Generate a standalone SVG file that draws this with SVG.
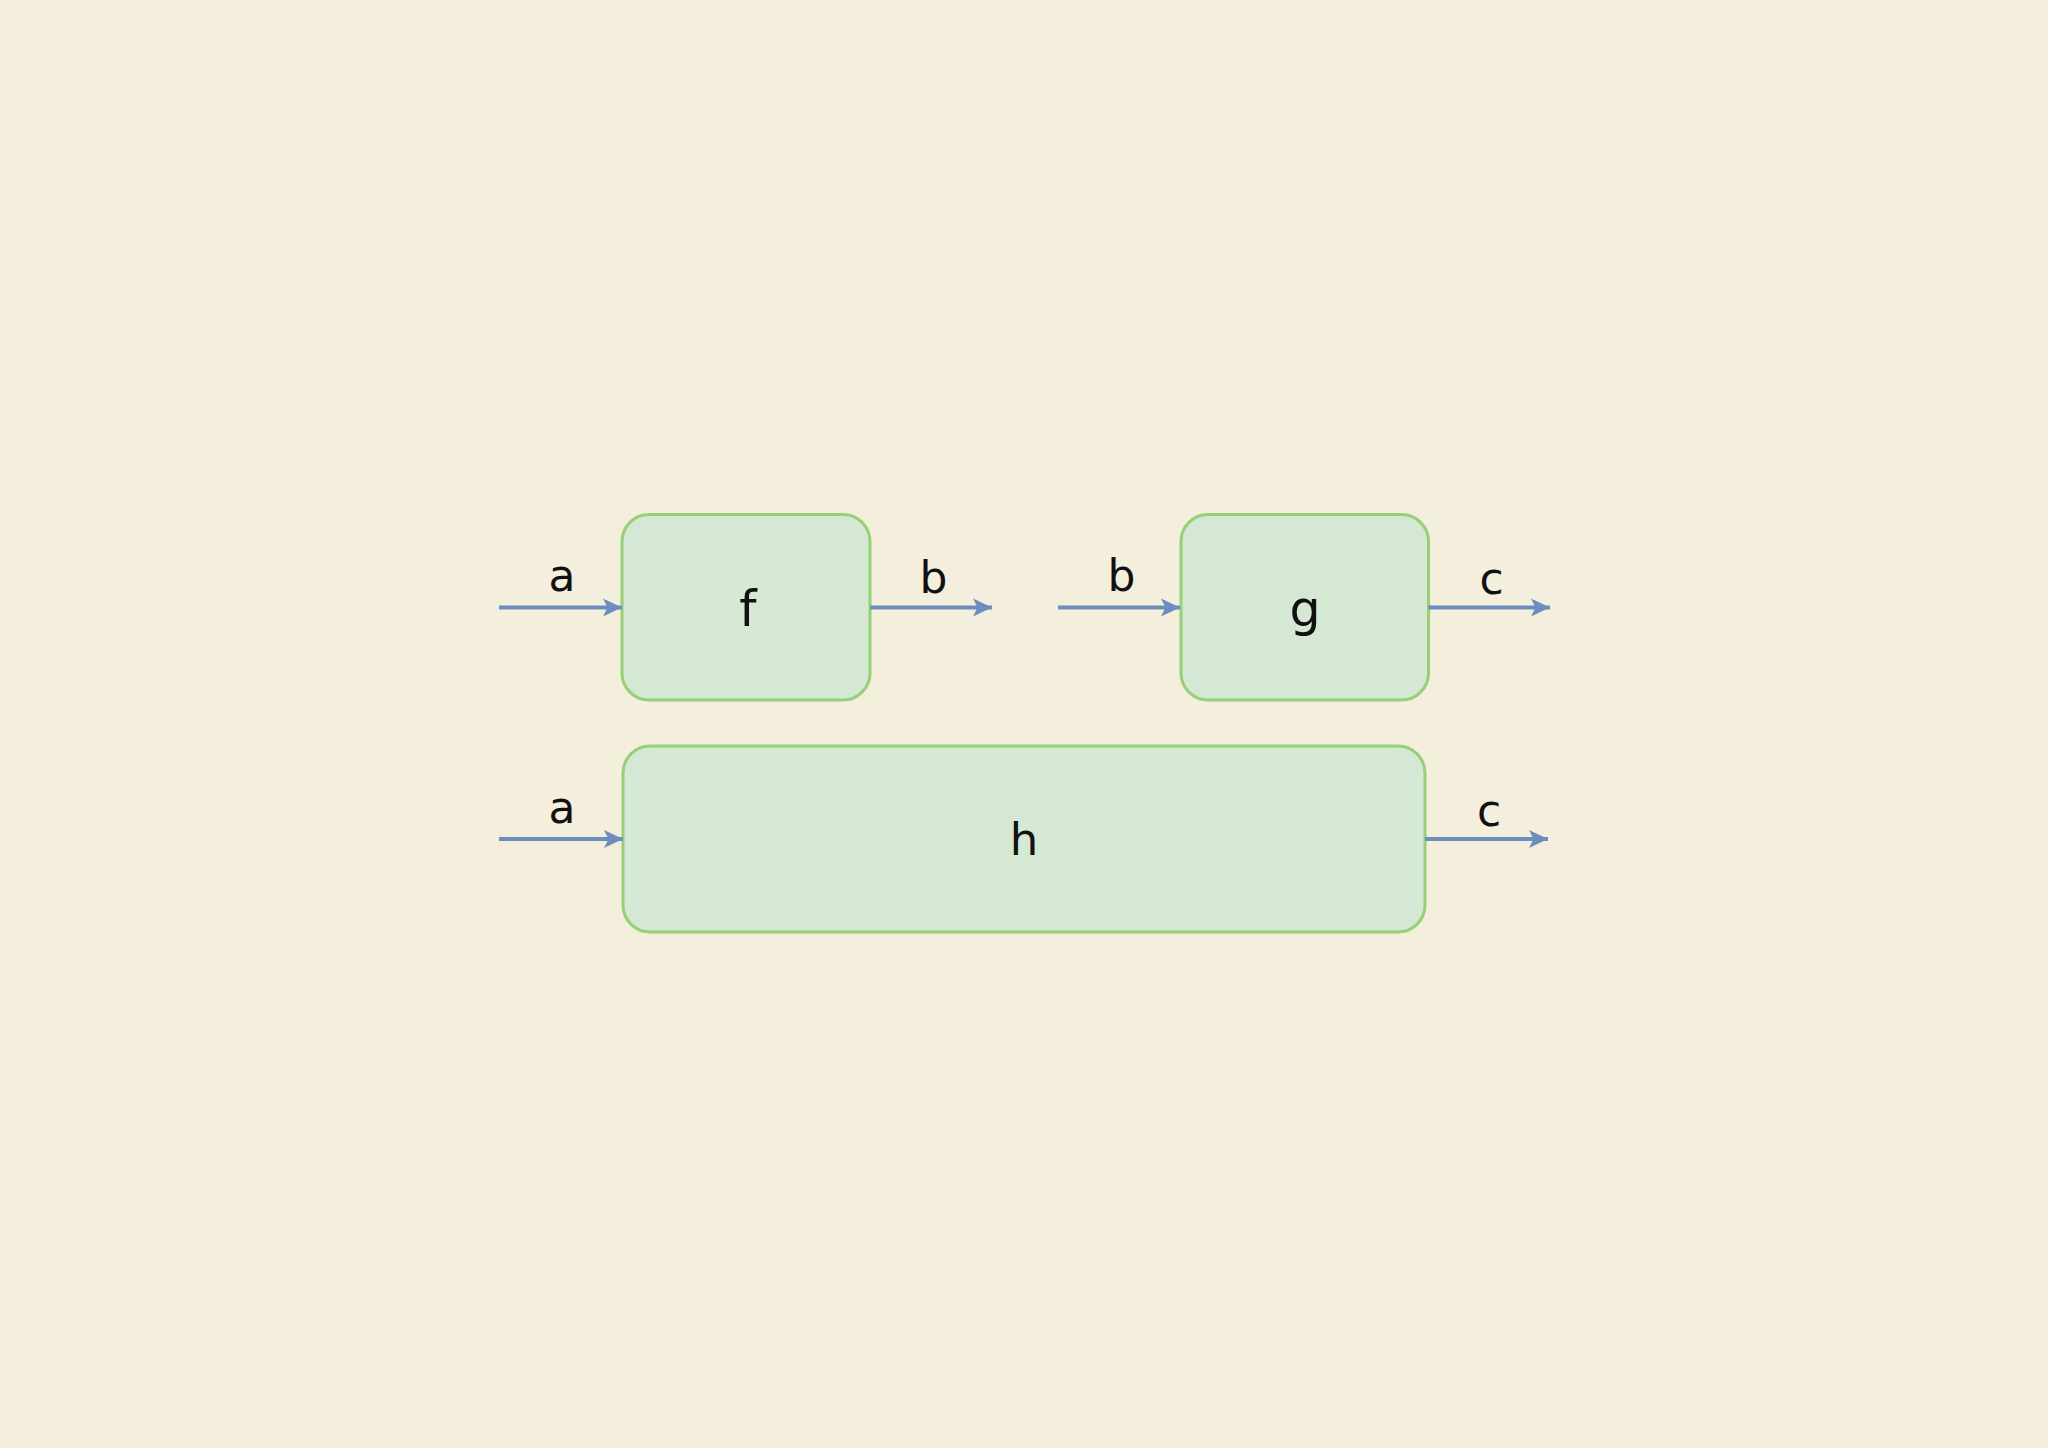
<svg xmlns="http://www.w3.org/2000/svg" width="2048" height="1448" viewBox="0 0 2048 1448">
  <style>
    .box { fill: #D5E8D4; stroke: #97D077; stroke-width: 3; }
    .edge { stroke: #6C8EBF; stroke-width: 3.8; fill: none; }
    .lbl { font-family: "DejaVu Sans", sans-serif; font-size: 44px; fill: #111111; text-anchor: middle; }
    .name { font-family: "DejaVu Sans", sans-serif; font-size: 49px; fill: #111111; text-anchor: middle; }
  </style>
  <defs>
    <marker id="arr" markerUnits="userSpaceOnUse" markerWidth="22" markerHeight="22" refX="19" refY="11" orient="auto">
      <path d="M0,2 L19,11 L0,20 L4.5,11 Z" fill="#6C8EBF"/>
    </marker>
  </defs>
  <rect x="0" y="0" width="2048" height="1448" fill="#F4EEDD"/>

  <g id="node-f">
    <rect class="box" x="622" y="514.5" width="248" height="185.5" rx="27" ry="27"/>
    <text class="name" x="748" y="626">f</text>
  </g>
  <g id="node-g">
    <rect class="box" x="1181" y="514.5" width="247.5" height="185.5" rx="27" ry="27"/>
    <text class="name" x="1305" y="626">g</text>
  </g>
  <g id="node-h">
    <rect class="box" x="623" y="746" width="802" height="186" rx="27" ry="27"/>
    <text class="name" x="1024" y="855" style="font-size:45px">h</text>
  </g>

  <g id="connectors">
    <line class="edge" x1="499" y1="607.5" x2="622" y2="607.5" marker-end="url(#arr)"/>
    <line class="edge" x1="870" y1="607.5" x2="992" y2="607.5" marker-end="url(#arr)"/>
    <line class="edge" x1="1058" y1="607.5" x2="1180" y2="607.5" marker-end="url(#arr)"/>
    <line class="edge" x1="1428.5" y1="607.5" x2="1550" y2="607.5" marker-end="url(#arr)"/>
    <line class="edge" x1="499" y1="839" x2="623" y2="839" marker-end="url(#arr)"/>
    <line class="edge" x1="1425" y1="839" x2="1548" y2="839" marker-end="url(#arr)"/>
    <text class="lbl" x="562" y="591">a</text>
    <text class="lbl" x="933.5" y="593">b</text>
    <text class="lbl" x="1121.5" y="591">b</text>
    <text class="lbl" x="1491.5" y="594">c</text>
    <text class="lbl" x="562" y="823">a</text>
    <text class="lbl" x="1489" y="826">c</text>
  </g>
</svg>
